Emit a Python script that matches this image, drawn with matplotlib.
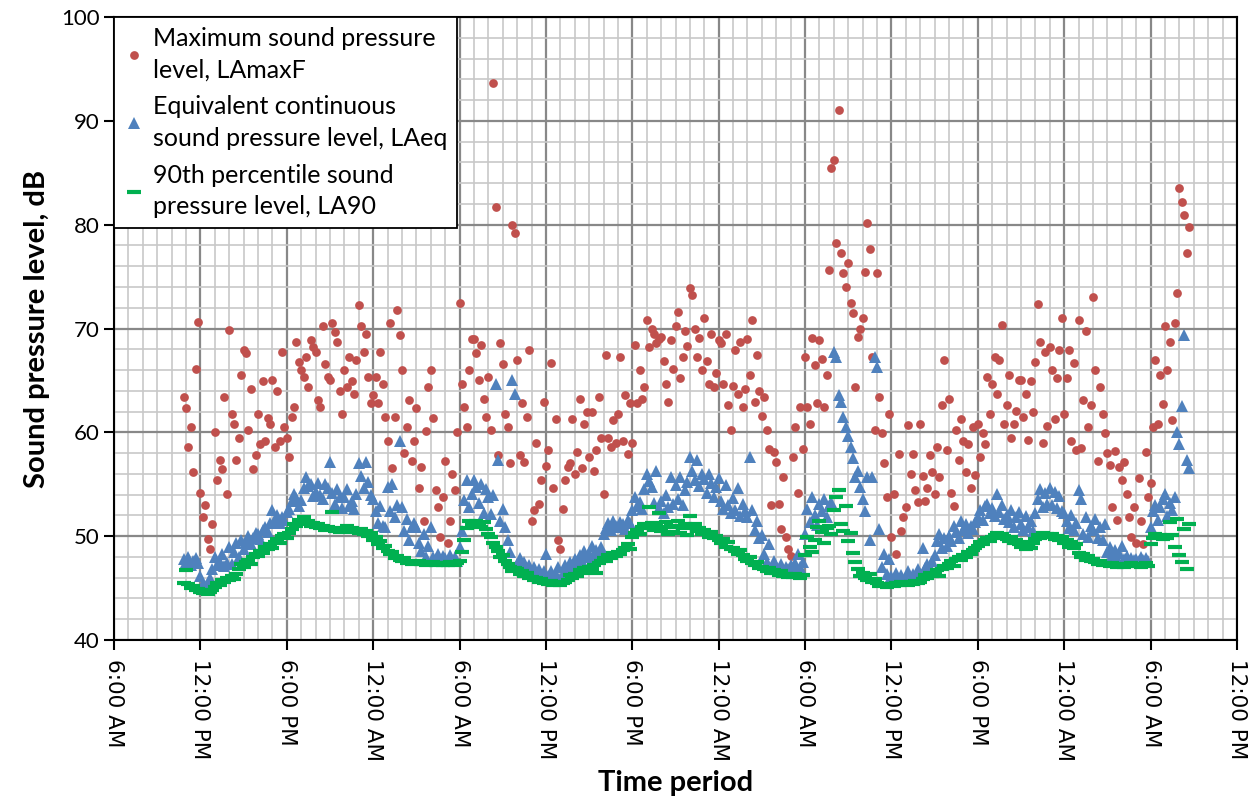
import matplotlib
matplotlib.use("Agg")
import matplotlib.pyplot as plt
import matplotlib.dates as mdates
from matplotlib.ticker import MultipleLocator
import numpy as np
import pandas as pd

# 10-minute readings; first row is 10:50 AM, then one row per clock hour
start = "2013-06-04 10:50"

lamax_rows = [
    [63.4],
    [62.3, 58.6, 60.5, 56.2, 66.1, 70.6],   # 11 AM
    [54.2, 51.8, 53.0, 49.7, 48.8, 51.2],
    [60.0, 55.4, 57.3, 56.5, 63.4, 54.1],
    [69.9, 61.8, 60.8, 57.3, 59.5, 65.5],
    [67.9, 67.6, 60.2, 64.2, 56.5, 57.8],
    [61.8, 58.9, 64.9, 59.2, 61.4, 60.8],
    [65.0, 58.6, 64.0, 59.2, 67.7, 60.5],
    [59.5, 57.6, 61.5, 62.4, 68.7, 66.8],   # 6 PM
    [66.0, 65.3, 67.3, 64.4, 68.9, 68.2],
    [67.7, 63.1, 62.4, 70.2, 66.6, 65.3],
    [65.0, 70.5, 69.7, 68.7, 64.0, 61.8],
    [66.0, 64.4, 67.3, 64.9, 63.7, 67.0],
    [72.3, 70.2, 67.7, 69.5, 65.3, 62.8],
    [63.6, 65.3, 62.8, 67.7, 64.7, 61.5],   # 12 AM
    [59.2, 70.5, 56.6, 61.5, 71.8, 69.4],
    [66.0, 58.0, 60.5, 63.1, 57.2, 59.2],
    [62.3, 54.6, 56.7, 51.5, 60.1, 64.4],
    [66.0, 61.4, 54.4, 52.8, 49.9, 53.8],
    [57.2, 49.3, 51.5, 56.0, 54.4, 60.0],
    [72.5, 64.7, 62.4, 60.5, 66.0, 69.0],   # 6 AM
    [69.0, 67.6, 65.0, 68.4, 63.2, 61.5],
    [65.3, 60.2, 93.6, 81.7, 57.8, 68.6],
    [66.6, 61.8, 60.5, 57.0, 80.0, 79.2],
    [67.0, 57.8, 62.8, 57.1, 61.5, 67.9],
    [51.5, 52.5, 59.0, 53.1, 55.4, 62.9],
    [56.8, 58.3, 66.7, 54.6, 61.3, 49.6],   # 12 PM
    [48.8, 52.6, 55.4, 56.7, 57.0, 61.3],
    [56.0, 58.1, 63.2, 56.6, 60.8, 62.0],
    [57.6, 62.0, 56.3, 58.3, 63.4, 59.5],
    [54.1, 67.4, 59.5, 58.6, 61.2, 59.0],
    [61.8, 67.3, 59.2, 63.6, 57.9, 62.8],
    [59.0, 68.4, 62.8, 66.0, 63.2, 64.4],   # 6 PM
    [70.8, 68.2, 70.0, 69.5, 68.6, 69.0],
    [69.2, 66.9, 64.7, 62.9, 68.9, 66.1],
    [70.2, 71.6, 65.2, 67.3, 69.8, 68.3],
    [73.9, 73.2, 70.0, 67.3, 69.1, 66.0],
    [71.0, 66.9, 64.7, 69.5, 64.4, 65.7],
    [68.9, 68.6, 64.7, 69.5, 62.6, 60.2],   # 12 AM
    [64.5, 67.9, 63.7, 68.7, 62.4, 64.2],
    [69.0, 65.5, 70.8, 62.9, 67.4, 64.0],
    [61.6, 63.4, 60.2, 58.4, 53.0, 58.1],
    [57.1, 53.1, 50.7, 55.7, 49.9, 48.8],
    [48.1, 57.6, 60.5, 54.2, 62.4, 58.4],
    [67.3, 62.4, 60.8, 69.1, 66.5, 62.8],   # 6 AM
    [68.9, 67.1, 62.4, 65.5, 75.6, 85.5],
    [86.2, 78.2, 91.0, 77.3, 75.3, 74.0],
    [76.3, 72.5, 71.5, 64.4, 69.2, 70.0],
    [71.0, 75.4, 80.2, 77.7, 67.3, 60.2],
    [75.3, 63.4, 59.9, 57.0, 53.8, 61.8],
    [49.9, 54.1, 48.3, 57.9, 50.5, 51.8],   # 12 PM
    [52.8, 60.7, 56.0, 57.9, 54.4, 53.3],
    [60.8, 55.8, 53.4, 54.6, 57.8, 56.2],
    [54.1, 58.6, 55.7, 62.6, 67.0, 58.3],
    [63.2, 54.2, 52.9, 60.2, 57.3, 61.3],
    [59.2, 56.2, 58.9, 54.6, 60.5, 55.9],
    [60.8, 57.6, 59.9, 58.9, 65.3, 61.8],   # 6 PM
    [64.7, 67.3, 63.7, 67.0, 70.3, 60.8],
    [62.6, 65.5, 59.5, 60.8, 62.1, 65.0],
    [65.0, 61.5, 63.7, 59.3, 64.9, 62.0],
    [66.8, 72.4, 68.7, 59.0, 67.7, 60.6],
    [68.2, 66.0, 61.3, 65.2, 67.9, 71.0],
    [61.8, 65.2, 67.9, 59.2, 66.7, 58.3],   # 12 AM
    [70.8, 58.5, 63.1, 69.8, 60.5, 62.6],
    [73.0, 66.0, 57.2, 64.4, 61.8, 59.9],
    [58.0, 56.9, 52.8, 58.2, 51.6, 56.7],
    [55.4, 57.1, 54.1, 51.8, 49.9, 52.8],
    [49.3, 55.6, 51.5, 49.2, 58.1, 53.8],
    [55.1, 60.5, 67.0, 60.8, 65.5, 62.7],   # 6 AM
    [70.2, 66.0, 68.7, 61.2, 70.5, 73.4],
    [83.5, 82.2, 80.9, 77.3, 79.8],
]

laeq_rows = [
    [47.8],
    [47.5, 48.0, 47.2, 47.6, 47.9, 47.4],
    [46.2, 45.4, 45.1, 45.5, 46.0, 46.8],
    [48.0, 47.2, 47.5, 48.3, 47.1, 47.4],
    [49.0, 47.3, 48.5, 49.3, 48.0, 49.6],
    [48.8, 49.4, 50.0, 49.2, 49.8, 50.3],
    [50.2, 49.7, 50.6, 50.9, 50.4, 51.3],
    [52.5, 51.5, 52.0, 51.3, 51.8, 51.6],
    [52.3, 52.6, 53.4, 54.1, 53.7, 52.9],
    [53.5, 54.6, 55.7, 54.8, 55.0, 53.9],
    [54.3, 55.1, 54.0, 53.6, 55.0, 54.6],
    [57.1, 54.2, 53.1, 54.5, 53.8, 52.7],
    [53.8, 54.5, 52.9, 53.4, 52.6, 54.1],
    [57.0, 55.8, 54.6, 57.1, 55.2, 54.0],
    [53.6, 52.4, 51.3, 52.9, 51.0, 50.9],
    [54.7, 52.4, 55.0, 51.8, 53.0, 59.2],
    [52.8, 50.5, 51.7, 49.6, 50.9, 51.3],
    [50.9, 49.3, 48.6, 50.2, 48.0, 49.1],
    [50.9, 48.0, 47.8, 48.3, 47.6, 48.1],
    [47.9, 47.6, 48.2, 47.7, 48.0, 47.6],
    [49.0, 50.5, 53.5, 55.4, 52.8, 54.1],
    [55.4, 54.7, 53.2, 55.0, 52.2, 54.5],
    [53.8, 52.1, 54.0, 64.7, 57.3, 51.5],
    [52.6, 50.9, 49.6, 48.5, 65.0, 63.7],
    [47.3, 47.9, 46.7, 47.5, 46.9, 47.2],
    [46.5, 47.0, 46.3, 46.8, 46.1, 46.6],
    [48.3, 46.2, 46.6, 46.0, 46.4, 47.0],
    [45.9, 46.4, 47.2, 46.8, 47.5, 47.0],
    [47.8, 47.3, 48.2, 47.6, 48.6, 48.0],
    [48.4, 49.1, 47.9, 48.7, 48.3, 49.0],
    [50.2, 50.8, 51.3, 50.6, 51.5, 51.0],
    [50.9, 51.4, 51.2, 50.7, 51.6, 51.3],
    [52.5, 53.8, 52.9, 53.3, 52.6, 54.5],
    [56.0, 55.3, 54.7, 53.2, 56.3, 52.7],
    [53.4, 52.2, 54.0, 52.8, 55.7, 53.1],
    [54.9, 53.6, 55.7, 53.0, 54.4, 55.2],
    [57.6, 56.3, 55.4, 57.3, 54.8, 56.0],
    [55.5, 54.2, 56.0, 55.1, 53.8, 54.7],
    [55.6, 53.4, 52.6, 54.9, 53.0, 52.2],
    [53.7, 52.5, 54.6, 51.9, 53.1, 52.4],
    [51.8, 57.6, 52.5, 50.6, 51.5, 49.8],
    [50.1, 48.3, 47.5, 49.2, 46.9, 47.6],
    [47.1, 46.8, 47.3, 46.7, 47.0, 46.8],
    [47.2, 46.9, 47.4, 48.3, 47.0, 47.5],
    [50.2, 52.6, 51.4, 53.8, 52.0, 51.1],
    [53.1, 52.4, 53.6, 51.8, 52.9, 53.3],
    [67.7, 67.3, 63.6, 62.9, 61.5, 60.5],
    [59.6, 58.6, 57.5, 55.7, 56.3, 54.7],
    [53.6, 52.4, 55.7, 49.6, 55.7, 67.3],
    [66.3, 50.7, 47.0, 48.3, 46.4, 47.8],
    [46.2, 45.8, 46.5, 45.9, 46.3, 45.7],
    [46.0, 46.6, 45.9, 46.4, 46.1, 46.8],
    [46.4, 48.9, 46.9, 47.3, 47.0, 47.6],
    [48.2, 49.5, 50.2, 48.9, 49.8, 49.1],
    [50.0, 49.5, 51.0, 50.4, 49.8, 51.5],
    [50.6, 51.2, 50.3, 51.0, 50.7, 51.4],
    [51.8, 52.5, 51.6, 52.9, 53.1, 52.2],
    [52.7, 51.9, 54.1, 52.3, 53.0, 51.7],
    [52.0, 51.4, 52.5, 50.9, 51.8, 52.3],
    [51.2, 50.6, 51.9, 50.9, 51.5, 50.5],
    [52.2, 53.6, 54.5, 52.8, 54.2, 53.1],
    [54.6, 53.0, 54.3, 52.7, 53.9, 52.4],
    [52.2, 51.5, 50.8, 52.0, 50.6, 51.3],
    [54.4, 53.6, 50.2, 51.8, 49.9, 51.0],
    [50.6, 51.7, 49.8, 50.9, 49.6, 51.2],
    [48.5, 49.0, 48.2, 48.7, 47.9, 48.4],
    [49.1, 47.8, 48.1, 47.6, 47.9, 47.7],
    [47.8, 47.6, 48.0, 47.7, 47.9, 47.6],
    [50.9, 52.4, 53.0, 51.6, 52.8, 53.6],
    [54.1, 51.9, 53.2, 52.5, 53.8, 60.0],
    [58.9, 62.5, 69.4, 57.3, 56.6],
]

la90_rows = [
    [45.5],
    [46.7, 45.4, 45.0, 45.2, 44.8, 44.9],
    [44.6, 44.5, 44.7, 44.4, 44.6, 44.8],
    [45.1, 45.5, 45.3, 45.8, 45.6, 46.0],
    [45.8, 46.2, 45.9, 46.4, 46.8, 47.3],
    [47.0, 47.5, 47.7, 47.3, 48.0, 48.3],
    [48.1, 48.6, 48.4, 49.0, 48.8, 49.2],
    [48.9, 49.4, 49.7, 49.3, 50.0, 50.2],
    [49.8, 50.3, 50.7, 51.2, 51.0, 51.6],
    [51.4, 51.8, 51.2, 51.5, 51.0, 51.3],
    [50.9, 51.2, 50.8, 51.0, 50.6, 50.9],
    [50.7, 52.3, 50.5, 50.8, 50.4, 50.7],
    [50.6, 51.0, 50.5, 50.8, 50.4, 50.6],
    [50.3, 50.7, 50.2, 50.5, 50.0, 50.3],
    [49.6, 49.9, 49.2, 49.5, 48.9, 49.1],
    [48.6, 48.3, 48.5, 47.9, 48.1, 47.7],
    [47.6, 47.9, 47.4, 47.6, 47.3, 47.5],
    [47.4, 47.6, 47.3, 47.5, 47.2, 47.4],
    [47.3, 47.5, 47.2, 47.4, 47.3, 47.2],
    [47.4, 47.2, 47.5, 47.3, 47.2, 47.4],
    [47.6, 48.5, 49.6, 50.8, 51.5, 51.2],
    [51.0, 51.5, 51.2, 50.9, 51.4, 50.7],
    [50.2, 49.9, 49.3, 49.0, 48.6, 48.0],
    [48.2, 47.6, 47.3, 47.0, 46.6, 46.9],
    [46.8, 46.4, 46.6, 46.2, 46.5, 46.0],
    [46.1, 45.8, 46.0, 45.6, 45.9, 45.5],
    [45.6, 45.4, 45.7, 45.3, 45.5, 45.4],
    [45.3, 45.5, 45.6, 45.8, 46.3, 46.0],
    [46.4, 46.2, 46.7, 46.5, 46.9, 46.6],
    [47.0, 46.8, 47.2, 46.5, 47.4, 47.6],
    [47.9, 47.6, 48.2, 47.9, 48.4, 48.1],
    [48.5, 48.3, 48.7, 48.9, 49.2, 48.8],
    [49.9, 50.3, 50.6, 50.2, 50.9, 51.2],
    [50.8, 52.8, 51.3, 50.6, 51.0, 52.2],
    [50.5, 50.9, 51.4, 50.2, 51.0, 50.4],
    [50.9, 51.5, 50.3, 50.8, 51.2, 50.1],
    [51.9, 50.9, 51.2, 50.5, 50.8, 50.2],
    [50.6, 50.3, 49.9, 50.4, 49.8, 50.0],
    [49.6, 49.3, 49.7, 49.0, 49.4, 48.8],
    [48.9, 48.6, 48.3, 48.7, 48.2, 47.8],
    [47.6, 48.0, 47.4, 47.2, 47.5, 46.9],
    [47.0, 46.8, 46.6, 46.9, 46.5, 46.7],
    [46.5, 46.3, 46.6, 46.2, 46.4, 46.1],
    [46.3, 46.1, 46.4, 46.2, 46.0, 46.3],
    [48.2, 49.9, 49.0, 48.5, 49.6, 50.9],
    [51.5, 50.4, 49.3, 50.8, 51.0, 50.2],
    [52.5, 53.8, 54.4, 51.2, 50.5, 52.9],
    [49.5, 50.3, 48.4, 47.5, 46.8, 46.2],
    [46.5, 46.0, 45.8, 46.4, 45.6, 45.9],
    [45.5, 45.2, 45.4, 45.3, 45.1, 45.3],
    [45.4, 45.2, 45.5, 45.3, 45.6, 45.4],
    [45.5, 45.3, 45.6, 45.4, 45.7, 45.5],
    [45.6, 45.9, 46.3, 46.0, 46.5, 46.2],
    [46.4, 46.7, 46.2, 46.8, 47.1, 46.9],
    [47.3, 47.6, 47.1, 47.8, 48.0, 47.7],
    [48.2, 48.0, 48.5, 48.3, 48.7, 48.9],
    [49.1, 49.4, 49.2, 49.6, 49.8, 49.5],
    [49.9, 50.1, 50.3, 49.8, 50.2, 50.0],
    [49.7, 49.5, 49.9, 49.3, 49.6, 49.2],
    [49.0, 49.4, 48.8, 49.2, 48.9, 49.3],
    [49.7, 50.1, 49.8, 50.3, 49.9, 50.2],
    [49.9, 50.2, 49.7, 50.0, 49.6, 49.9],
    [49.3, 49.6, 49.0, 49.4, 48.9, 49.2],
    [48.4, 48.0, 48.3, 47.7, 48.1, 47.6],
    [47.8, 47.5, 47.3, 47.6, 47.2, 47.4],
    [47.3, 47.1, 47.4, 47.2, 47.0, 47.3],
    [47.2, 47.0, 47.3, 47.1, 47.4, 47.2],
    [47.1, 47.3, 47.0, 47.2, 47.4, 47.1],
    [49.2, 49.8, 50.2, 49.9, 50.1, 49.7],
    [50.0, 49.8, 51.4, 50.1, 49.0, 51.7],
    [48.2, 47.5, 50.7, 46.8, 51.2],
]

lamax = np.concatenate(lamax_rows)
laeq = np.concatenate(laeq_rows)
la90 = np.concatenate(la90_rows)
times = pd.date_range(start, periods=len(lamax), freq="10min")

plt.rcParams['font.family'] = 'Lato'

fig = plt.figure(figsize=(12.53, 7.96), dpi=100)
ax = fig.add_axes([114 / 1253, 1 - 640 / 796, (1237 - 114) / 1253, (640 - 17) / 796])

ax.plot(times, lamax, 'o', color='#C0504D', markersize=6.3, markeredgewidth=0,
        label="Maximum sound pressure\nlevel, LAmaxF")
ax.plot(times, laeq, '^', color='#4F81BD', markersize=8.3, markeredgewidth=0,
        label="Equivalent continuous\nsound pressure level, LAeq")
ax.plot(times, la90, '_', color='#00B050', markersize=9.5, markeredgewidth=3,
        label="90th percentile sound\npressure level, LA90")

ax.set_xlim(pd.Timestamp("2013-06-04 06:00"), pd.Timestamp("2013-06-07 12:00"))
ax.set_ylim(40, 100)
ax.xaxis.set_major_locator(mdates.HourLocator(byhour=[0, 6, 12, 18]))
ax.xaxis.set_minor_locator(mdates.HourLocator())
ax.xaxis.set_major_formatter(mdates.DateFormatter('%-I:%M %p'))
ax.yaxis.set_major_locator(MultipleLocator(10))
ax.yaxis.set_minor_locator(MultipleLocator(2))

ax.set_axisbelow(True)
ax.grid(which='major', color='#888888', linewidth=1.6)
ax.grid(which='minor', color='#c8c8c8', linewidth=1.2)

for s in ax.spines.values():
    s.set_color('black')
    s.set_linewidth(1.5)

ax.tick_params(which='minor', length=0)
ax.tick_params(which='major', length=7, width=1.5, direction='out', colors='black')
ax.tick_params(axis='y', labelsize=16)
ax.tick_params(axis='x', labelsize=15.5, labelrotation=-90, pad=7, labelfontfamily='DejaVu Sans')

ax.set_ylabel("Sound pressure level, dB", fontsize=21, fontweight='bold', labelpad=8)
ax.set_xlabel("Time period", fontsize=21, fontweight='bold', labelpad=6)

leg = ax.legend(loc='upper left', bbox_to_anchor=(0, 1), borderaxespad=0, fontsize=18,
                numpoints=1, fancybox=False, framealpha=1, edgecolor='black',
                handlelength=0.8, handletextpad=0.35, labelspacing=0.55, borderpad=0.4)
leg.get_frame().set_linewidth(1.3)
for t in leg.get_texts():
    t.set_linespacing(1.45)

fig.savefig("out.png", dpi=100)
